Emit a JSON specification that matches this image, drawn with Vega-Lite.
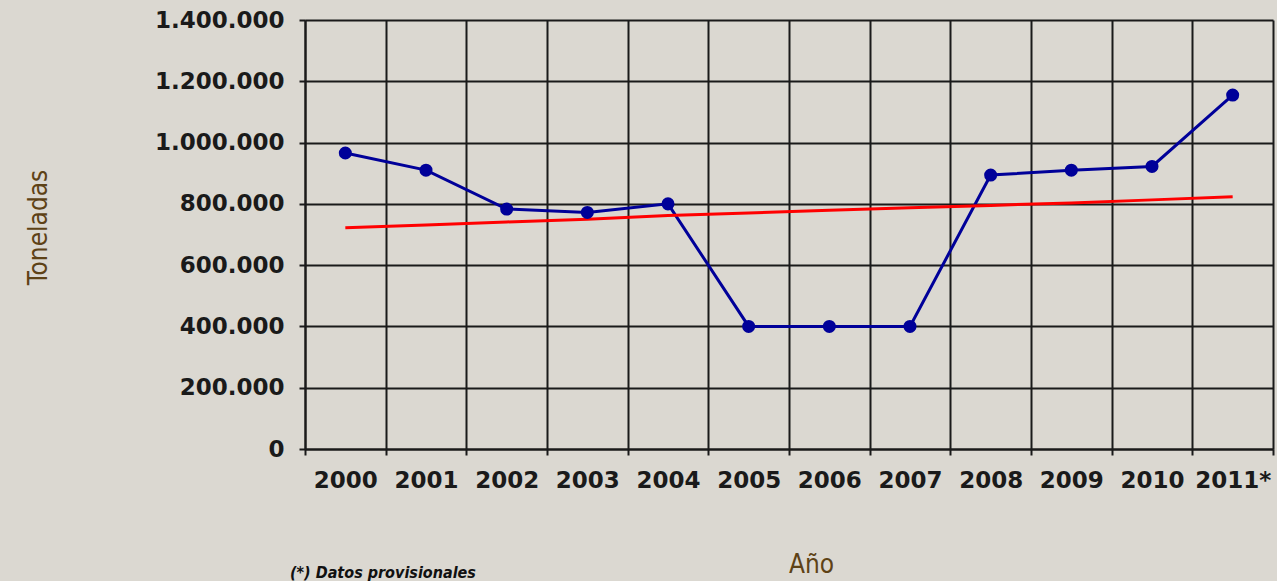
{
  "$schema": "https://vega.github.io/schema/vega-lite/v6.json",
  "width": 968,
  "height": 429,
  "autosize": {"type": "none"},
  "padding": {"left": 305, "top": 20, "right": 4, "bottom": 132},
  "background": "#dbd8d1",
  "title": {
    "text": "(*) Datos provisionales",
    "orient": "bottom",
    "anchor": "start",
    "frame": "group",
    "baseline": "top",
    "offset": -12,
    "dx": -15,
    "font": "Liberation Sans Narrow, DejaVu Sans Condensed, sans-serif",
    "fontStyle": "italic",
    "fontWeight": "bold",
    "fontSize": 16,
    "color": "#111111"
  },
  "data": {
    "values": [
      {"year": "2000", "serie": "Producción", "toneladas": 966000},
      {"year": "2001", "serie": "Producción", "toneladas": 910000},
      {"year": "2002", "serie": "Producción", "toneladas": 783000},
      {"year": "2003", "serie": "Producción", "toneladas": 772000},
      {"year": "2004", "serie": "Producción", "toneladas": 800000},
      {"year": "2005", "serie": "Producción", "toneladas": 400000},
      {"year": "2006", "serie": "Producción", "toneladas": 400000},
      {"year": "2007", "serie": "Producción", "toneladas": 400000},
      {"year": "2008", "serie": "Producción", "toneladas": 894000},
      {"year": "2009", "serie": "Producción", "toneladas": 910000},
      {"year": "2010", "serie": "Producción", "toneladas": 922000},
      {"year": "2011*", "serie": "Producción", "toneladas": 1155000},
      {"year": "2000", "serie": "Tendencia", "toneladas": 722000},
      {"year": "2001", "serie": "Tendencia", "toneladas": 731000},
      {"year": "2002", "serie": "Tendencia", "toneladas": 741000},
      {"year": "2003", "serie": "Tendencia", "toneladas": 750000},
      {"year": "2004", "serie": "Tendencia", "toneladas": 762000},
      {"year": "2005", "serie": "Tendencia", "toneladas": 770000},
      {"year": "2006", "serie": "Tendencia", "toneladas": 779000},
      {"year": "2007", "serie": "Tendencia", "toneladas": 787000},
      {"year": "2008", "serie": "Tendencia", "toneladas": 795000},
      {"year": "2009", "serie": "Tendencia", "toneladas": 803000},
      {"year": "2010", "serie": "Tendencia", "toneladas": 813000},
      {"year": "2011*", "serie": "Tendencia", "toneladas": 823000}
    ]
  },
  "encoding": {
    "x": {
      "field": "year",
      "type": "ordinal",
      "sort": null,
      "scale": {"type": "band", "paddingInner": 0, "paddingOuter": 0},
      "axis": {
        "title": "Año",
        "titleFont": "Liberation Sans Narrow, DejaVu Sans Condensed, sans-serif",
        "titleFontSize": 26,
        "titleFontWeight": "normal",
        "titleColor": "#5e4216",
        "titleX": 506,
        "titleY": 123,
        "titleAlign": "center",
        "titleBaseline": "alphabetic",
        "labelFont": "DejaVu Sans",
        "labelFontWeight": "bold",
        "labelFontSize": 23,
        "labelColor": "#1a1a1a",
        "labelAngle": 0,
        "labelPadding": 14,
        "labelOverlap": false,
        "labelFlush": false,
        "tickBand": "extent",
        "tickSize": 6,
        "tickWidth": 2,
        "tickColor": "#1a1a1a",
        "grid": true,
        "gridColor": "#1a1a1a",
        "gridWidth": 2,
        "gridOpacity": 1,
        "domainColor": "#1a1a1a",
        "domainWidth": 2
      }
    },
    "y": {
      "field": "toneladas",
      "type": "quantitative",
      "scale": {"domain": [0, 1400000], "nice": false},
      "axis": {
        "title": "Toneladas",
        "titleFont": "Liberation Sans Narrow, DejaVu Sans Condensed, sans-serif",
        "titleFontSize": 26,
        "titleFontWeight": "normal",
        "titleColor": "#5e4216",
        "titleAngle": -90,
        "titleX": -259,
        "titleY": 207,
        "titleAlign": "center",
        "titleBaseline": "alphabetic",
        "values": [0, 200000, 400000, 600000, 800000, 1000000, 1200000, 1400000],
        "labelExpr": "replace(format(datum.value, ','), /,/g, '.')",
        "labelFont": "DejaVu Sans",
        "labelFontWeight": "bold",
        "labelFontSize": 23,
        "labelColor": "#1a1a1a",
        "labelPadding": 15,
        "tickSize": 6,
        "tickWidth": 2,
        "tickColor": "#1a1a1a",
        "grid": true,
        "gridColor": "#1a1a1a",
        "gridWidth": 2,
        "gridOpacity": 1,
        "domainColor": "#1a1a1a",
        "domainWidth": 2
      }
    }
  },
  "layer": [
    {
      "mark": {"type": "line", "strokeWidth": 3},
      "encoding": {
        "color": {
          "field": "serie",
          "type": "nominal",
          "scale": {"domain": ["Producción", "Tendencia"], "range": ["#000099", "#ff0000"]},
          "legend": null
        }
      }
    },
    {
      "transform": [{"filter": "datum.serie === 'Producción'"}],
      "mark": {"type": "point", "filled": true, "color": "#000099", "size": 170, "opacity": 1}
    }
  ]
}
